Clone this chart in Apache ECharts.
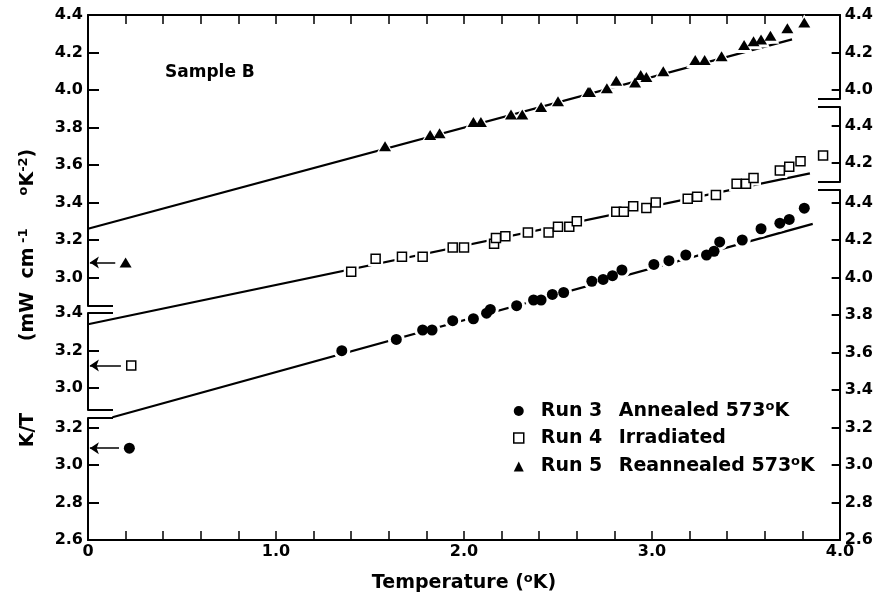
<!DOCTYPE html>
<html lang="en">
<head>
<meta charset="UTF-8">
<title>Sample B - K/T vs Temperature</title>
<script src="https://cdn.jsdelivr.net/npm/echarts@6/dist/echarts.min.js"></script>
<style>html, body { margin: 0; padding: 0; background: #fff; }</style>
</head>
<body>
<div id="main" style="width: 876px; height: 598px;"></div>
<script>
// readings: temperature (K) and K/T, each run read on its own offset scale
const run3T = [1.35, 1.64, 1.78, 1.83, 1.94, 2.05, 2.12, 2.14, 2.28, 2.37, 2.41, 2.47, 2.53, 2.68, 2.74, 2.79, 2.84, 3.01, 3.09, 3.18, 3.29, 3.33, 3.36, 3.48, 3.58, 3.68, 3.73, 3.81]
const run3K = [3.61, 3.67, 3.72, 3.72, 3.77, 3.78, 3.81, 3.83, 3.85, 3.88, 3.88, 3.91, 3.92, 3.98, 3.99, 4.01, 4.04, 4.07, 4.09, 4.12, 4.12, 4.14, 4.19, 4.20, 4.26, 4.29, 4.31, 4.37]

const run4T = [1.40, 1.53, 1.67, 1.78, 1.94, 2.00, 2.16, 2.17, 2.22, 2.34, 2.45, 2.50, 2.56, 2.60, 2.81, 2.85, 2.90, 2.97, 3.02, 3.19, 3.24, 3.34, 3.45, 3.50, 3.54, 3.68, 3.73, 3.79, 3.91]
const run4K = [3.62, 3.69, 3.70, 3.70, 3.75, 3.75, 3.77, 3.80, 3.81, 3.83, 3.83, 3.86, 3.86, 3.89, 3.94, 3.94, 3.97, 3.96, 3.99, 4.01, 4.02, 4.03, 4.09, 4.09, 4.12, 4.16, 4.18, 4.21, 4.24]

const run5T = [1.58, 1.82, 1.87, 2.05, 2.09, 2.25, 2.31, 2.41, 2.50, 2.66, 2.67, 2.76, 2.81, 2.91, 2.94, 2.97, 3.06, 3.23, 3.28, 3.37, 3.49, 3.54, 3.58, 3.63, 3.72, 3.81]
const run5K = [3.70, 3.76, 3.77, 3.83, 3.83, 3.87, 3.87, 3.91, 3.94, 3.99, 3.99, 4.01, 4.05, 4.04, 4.08, 4.07, 4.10, 4.16, 4.16, 4.18, 4.24, 4.26, 4.27, 4.29, 4.33, 4.36]

// fitted straight lines [T, K/T]
const run3Fit = [[0.13, 3.255], [3.855, 4.286]]
const run4Fit = [[0, 3.34], [3.84, 4.145]]
const run5Fit = [[0, 3.26], [3.745, 4.27]]

// arrowed points near the axis (run 3, 4, 5)
const arrowT = [0.22, 0.23, 0.20]
const arrowK = [3.09, 3.12, 3.08]

const runNames = ['Run 3', 'Run 4', 'Run 5']
const runLabels = ['Annealed 573°K', 'Irradiated', 'Reannealed 573°K']

// tick labels of the broken axes
const leftTicksTop = [3.0, 3.2, 3.4, 3.6, 3.8, 4.0, 4.2, 4.4]
const leftTicksMid = [3.0, 3.2, 3.4]
const leftTicksLow = [2.6, 2.8, 3.0, 3.2]
const rightTicksTop = [4.0, 4.2, 4.4]
const rightTicksMid = [4.2, 4.4]
const rightTicksLow = [2.6, 2.8, 3.0, 3.2, 3.4, 3.6, 3.8, 4.0, 4.2, 4.4]
const xLabels = [0, 1, 2, 3, 4]

const FONT = 'DejaVu Sans'
const PLOT = { left: 88, top: 15, right: 840, bottom: 540 }
const PX_PER_UNIT = 187.5

// each run has its own offset scale: value v sits at pixel px
const runScale = {
    run5: { v: 4.4, px: 15 },
    run4: { v: 3.4, px: 313 },
    run3: { v: 2.6, px: 540 },
}
const runAxisOrder = ['run5', 'run4', 'run3']
const valueAt = (s, px) => s.v + (s.px - px) / PX_PER_UNIT

const segments = [
    { side: 'left', run: 'run5', top: 15, bottom: 306, ticks: leftTicksTop },
    { side: 'left', run: 'run4', top: 313, bottom: 410, ticks: leftTicksMid },
    { side: 'left', run: 'run3', top: 418, bottom: 540, ticks: leftTicksLow },
    { side: 'right', run: 'run5', top: 15, bottom: 99, ticks: rightTicksTop },
    { side: 'right', run: 'run4', top: 107, bottom: 182, ticks: rightTicksMid },
    { side: 'right', run: 'run3', top: 190, bottom: 540, ticks: rightTicksLow },
]

const boldText = { color: '#000', fontFamily: FONT, fontWeight: 'bold' }

const grids = [{ left: PLOT.left, top: PLOT.top, width: PLOT.right - PLOT.left, height: PLOT.bottom - PLOT.top }]
segments.forEach(s => {
    grids.push({ left: PLOT.left, width: PLOT.right - PLOT.left, top: s.top, height: s.bottom - s.top })
})

const xTickLabel = v => {
    const r = Math.round(v)
    if (Math.abs(v - r) > 1e-6 || xLabels.indexOf(r) < 0) return ''
    return r === 0 ? '0' : r.toFixed(1)
}

const xAxes = [
    {
        gridIndex: 0, type: 'value', min: 0, max: 4, interval: 0.2, position: 'bottom',
        axisLine: { onZero: false, lineStyle: { color: '#000', width: 2 } },
        axisTick: { inside: true, length: 9, lineStyle: { color: '#000', width: 1.5 } },
        axisLabel: Object.assign({ formatter: xTickLabel, fontSize: 16, margin: 4, showMinLabel: true, showMaxLabel: true }, boldText),
        splitLine: { show: false },
        name: '{b|Temperature (}{s|o}{b|K)}',
        nameLocation: 'middle', nameGap: 32,
        nameTextStyle: {
            rich: {
                b: Object.assign({ fontSize: 19, lineHeight: 22 }, boldText),
                s: Object.assign({ fontSize: 13, lineHeight: 12, verticalAlign: 'top' }, boldText),
            }
        },
    },
    {
        gridIndex: 0, type: 'value', min: 0, max: 4, interval: 0.2, position: 'top',
        axisLine: { onZero: false, lineStyle: { color: '#000', width: 2 } },
        axisTick: { inside: true, length: 9, lineStyle: { color: '#000', width: 1.5 } },
        axisLabel: { show: false },
        splitLine: { show: false },
    },
]
segments.forEach((s, i) => {
    xAxes.push({ gridIndex: i + 1, type: 'value', min: 0, max: 4, show: false })
})

const yAxes = runAxisOrder.map(k => ({
    gridIndex: 0, type: 'value', show: false,
    min: valueAt(runScale[k], PLOT.bottom), max: valueAt(runScale[k], PLOT.top),
}))
segments.forEach((s, i) => {
    const sc = runScale[s.run]
    yAxes.push({
        gridIndex: i + 1, type: 'value', position: s.side,
        min: valueAt(sc, s.bottom), max: valueAt(sc, s.top),
        axisLine: { show: true, onZero: false, lineStyle: { color: '#000', width: 2 } },
        axisTick: { show: true, inside: true, length: s.side === 'left' ? 11 : 8, customValues: s.ticks, lineStyle: { color: '#000', width: 2 } },
        axisLabel: Object.assign({ customValues: s.ticks, formatter: v => v.toFixed(1), fontSize: 16, margin: 5 }, boldText),
        splitLine: { show: false },
    })
})

const runs = [
    { key: 'run3', T: run3T, K: run3K, fit: run3Fit, symbol: 'circle', size: [11, 11], style: { color: '#000', opacity: 1 } },
    { key: 'run4', T: run4T, K: run4K, fit: run4Fit, symbol: 'rect', size: [9, 9], style: { color: '#fff', borderColor: '#000', borderWidth: 1.5, opacity: 1 } },
    { key: 'run5', T: run5T, K: run5K, fit: run5Fit, symbol: 'triangle', size: [12, 10], style: { color: '#000', opacity: 1 } },
]

const series = []
runs.forEach((r, i) => {
    const yIdx = runAxisOrder.indexOf(r.key)
    const pts = r.T.map((t, j) => [t, r.K[j]])
    pts.push([arrowT[i], arrowK[i]])
    series.push({
        type: 'line', xAxisIndex: 0, yAxisIndex: yIdx, data: r.fit,
        symbol: 'none', silent: true, z: 2,
        lineStyle: { color: '#000', width: 2.2 },
    })
    series.push({
        name: 'halo' + i, type: 'scatter', xAxisIndex: 0, yAxisIndex: yIdx, data: pts,
        symbol: r.symbol, symbolSize: [r.size[0] + 6, r.size[1] + 6], silent: true, z: 3,
        itemStyle: { color: '#fff', opacity: 1 },
    })
    series.push({
        name: runNames[i], type: 'scatter', xAxisIndex: 0, yAxisIndex: yIdx, data: pts,
        symbol: r.symbol, symbolSize: r.size, z: 4,
        itemStyle: r.style,
        markLine: {
            silent: true, symbol: ['none', 'arrow'], symbolSize: 9,
            label: { show: false },
            lineStyle: { type: 'solid', color: '#000', width: 1.5 },
            data: [[{ coord: [arrowT[i] - 0.055, arrowK[i]] }, { coord: [0.01, arrowK[i]] }]],
        },
    })
})

const graphics = []
segments.forEach(s => {
    const x1 = s.side === 'left' ? PLOT.left : PLOT.right - 22
    const x2 = s.side === 'left' ? PLOT.left + 25 : PLOT.right
    const ys = []
    if (s.top > PLOT.top) ys.push(s.top)
    if (s.bottom < PLOT.bottom) ys.push(s.bottom)
    ys.forEach(y => graphics.push({
        type: 'line', shape: { x1: x1, y1: y, x2: x2, y2: y },
        style: { stroke: '#000', lineWidth: 2 },
    }))
})

const richBold = {
    b: { fontSize: 19, lineHeight: 22, fontFamily: FONT, fontWeight: 'bold', fill: '#000' },
    s: { fontSize: 13, lineHeight: 12, verticalAlign: 'top', fontFamily: FONT, fontWeight: 'bold', fill: '#000' },
}
graphics.push({
    type: 'text', x: 165, y: 73,
    style: { text: 'Sample B', font: 'bold 17px "DejaVu Sans"', fill: '#000', verticalAlign: 'middle' },
})
graphics.push({
    type: 'text', x: 28, y: 430, rotation: Math.PI / 2,
    style: { text: 'K/T', font: 'bold 19px "DejaVu Sans"', fill: '#000', align: 'center', verticalAlign: 'middle' },
})
graphics.push({
    type: 'text', x: 28, y: 245, rotation: Math.PI / 2,
    style: {
        text: '{b|(mW  cm}{s| -1}{b|     }{s|o}{b|K}{s|-2}{b|)}',
        rich: richBold, align: 'center', verticalAlign: 'middle',
    },
})

const legendText = name => {
    const label = runLabels[runNames.indexOf(name)]
    const body = label.indexOf('°K') >= 0
        ? '{b|' + label.replace('°K', '') + '}{s|o}{b|K}'
        : '{b|' + label + '}'
    return '{a|' + name + '}' + body
}

const option = {
    animation: false,
    backgroundColor: '#fff',
    grid: grids,
    xAxis: xAxes,
    yAxis: yAxes,
    series: series,
    graphic: graphics,
    legend: {
        data: [
            { name: 'Run 3', icon: 'circle', itemStyle: { color: '#000' } },
            { name: 'Run 4', icon: 'rect', itemStyle: { color: '#fff', borderColor: '#000', borderWidth: 1.5 } },
            { name: 'Run 5', icon: 'triangle', itemStyle: { color: '#000' } },
        ],
        orient: 'vertical', left: 508, top: 395,
        itemWidth: 10, itemHeight: 10, itemGap: 8,
        selectedMode: false,
        formatter: legendText,
        textStyle: {
            rich: {
                a: Object.assign({ fontSize: 19, lineHeight: 22, width: 78, padding: [0, 0, 0, 12] }, boldText),
                b: Object.assign({ fontSize: 19, lineHeight: 22 }, boldText),
                s: Object.assign({ fontSize: 13, lineHeight: 12, verticalAlign: 'top' }, boldText),
            }
        },
    },
}

const chart = echarts.init(document.getElementById('main'))
chart.setOption(option)
</script>
</body>
</html>
